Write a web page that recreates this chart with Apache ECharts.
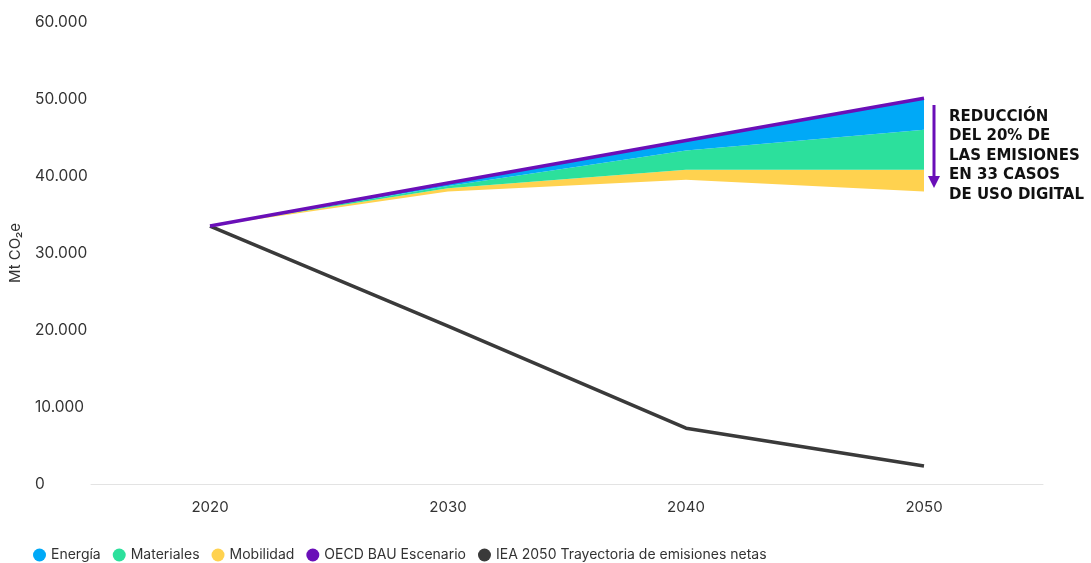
<!DOCTYPE html>
<html>
<head>
<meta charset="utf-8">
<script src="https://cdn.jsdelivr.net/npm/echarts@6/dist/echarts.min.js"></script>
<style>html,body{margin:0;padding:0;background:#fff}#c{width:1091px;height:563px}</style>
</head>
<body>
<div id="c"></div>
<script>
const years = ['2020', '2030', '2040', '2050'];
const bauValues = [33500, 39100, 44600, 50100];
const ieaValues = [33500, 20500, 7250, 2350];
const energiaReduction = [0, 400, 1300, 4100];
const materialesReduction = [0, 300, 2500, 5200];
const mobilidadReduction = [0, 400, 1300, 2800];
const yTicks = [0, 10000, 20000, 30000, 40000, 50000, 60000];

const baseValues = bauValues.map((v, i) => v - energiaReduction[i] - materialesReduction[i] - mobilidadReduction[i]);

const FONT = 'Inter, "Noto Sans", sans-serif';
const chart = echarts.init(document.getElementById('c'));

function fmt(v) {
  return String(v).replace(/\B(?=(\d{3})+(?!\d))/g, '.');
}

const areaSeries = (name, data, color) => ({
  name, type: 'line', stack: 'red', data, symbol: 'none',
  lineStyle: { width: 0 }, itemStyle: { color },
  areaStyle: { color, opacity: 1 }, z: 2, silent: true
});

chart.setOption({
  animation: false,
  textStyle: { fontFamily: FONT },
  grid: { left: 87, right: 48, top: 22, bottom: 79 },
  legend: {
    left: 28, top: 543, icon: 'circle', itemWidth: 13, itemHeight: 13, itemGap: 12,
    textStyle: { fontFamily: FONT, fontSize: 14, color: '#333' },
    data: ['Energía', 'Materiales', 'Mobilidad', 'OECD BAU Escenario', 'IEA 2050 Trayectoria de emisiones netas']
  },
  xAxis: {
    type: 'category', data: years, boundaryGap: true,
    axisLine: { show: true, lineStyle: { color: '#e3e3e3', width: 1 } },
    axisTick: { show: false },
    axisLabel: { color: '#333', fontSize: 15, margin: 16, fontFamily: FONT }
  },
  yAxis: {
    type: 'value', min: 0, max: 60000, interval: 10000,
    name: 'Mt CO₂e', nameLocation: 'middle', nameGap: 68, nameRotate: 90,
    nameTextStyle: { color: '#333', fontSize: 15, fontFamily: FONT },
    splitLine: { show: false },
    axisLine: { show: false }, axisTick: { show: false },
    axisLabel: { color: '#333', fontSize: 15.5, align: 'left', margin: 56, fontFamily: FONT, formatter: v => fmt(v) }
  },
  series: [
    { name: 'base', type: 'line', stack: 'red', data: baseValues, symbol: 'none', lineStyle: { width: 0 }, areaStyle: { opacity: 0 }, silent: true },
    areaSeries('Mobilidad', mobilidadReduction, '#ffd24f'),
    areaSeries('Materiales', materialesReduction, '#2ce09c'),
    areaSeries('Energía', energiaReduction, '#00a9f7'),
    { name: 'OECD BAU Escenario', type: 'line', data: bauValues, symbol: 'none', z: 5,
      lineStyle: { color: '#6a0fb8', width: 3.5 }, itemStyle: { color: '#6a0fb8' } },
    { name: 'IEA 2050 Trayectoria de emisiones netas', type: 'line', data: ieaValues, symbol: 'none', z: 4,
      lineStyle: { color: '#3a3a3a', width: 3.5 }, itemStyle: { color: '#3a3a3a' } }
  ],
  graphic: [
    { type: 'line', shape: { x1: 934, y1: 105, x2: 934, y2: 178 }, style: { stroke: '#6a0fb8', lineWidth: 3 } },
    { type: 'polygon', shape: { points: [[928, 176], [940, 176], [934, 188]] }, style: { fill: '#6a0fb8' } },
    { type: 'text', left: 949, top: 107,
      style: { text: 'REDUCCIÓN\nDEL 20% DE\nLAS EMISIONES\nEN 33 CASOS\nDE USO DIGITAL',
        font: 'bold 15px "DejaVu Sans", sans-serif', fill: '#111', lineHeight: 19.5 } }
  ]
});
</script>
</body>
</html>
